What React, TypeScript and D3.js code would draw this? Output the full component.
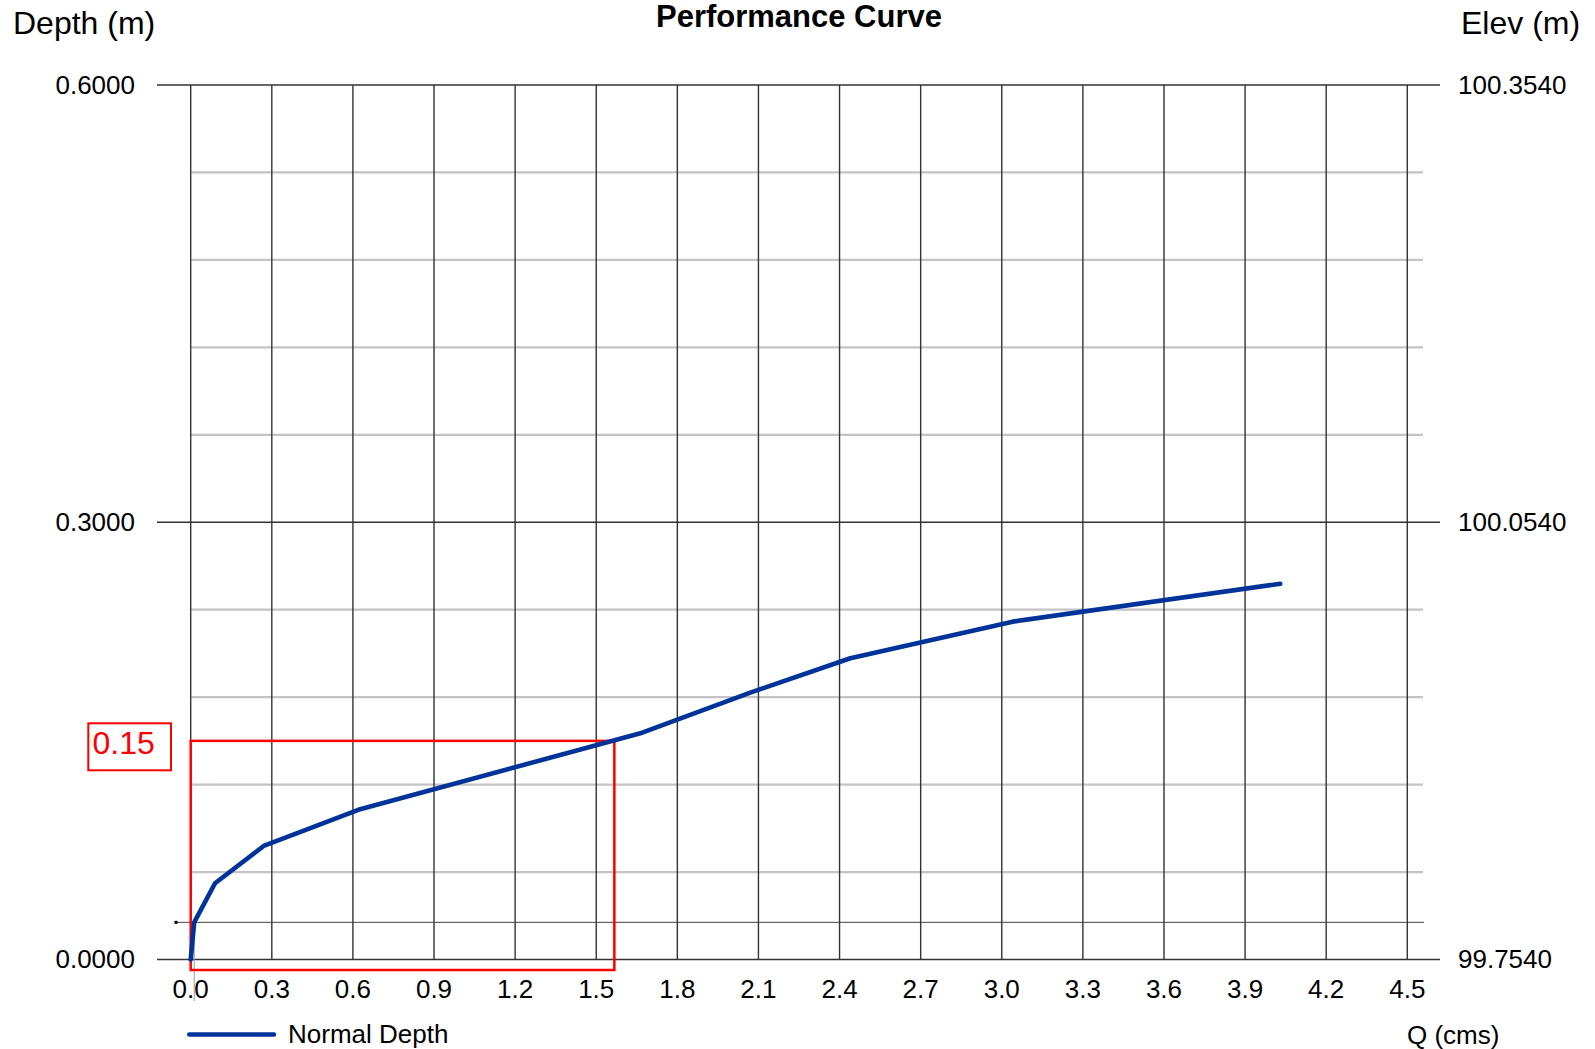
import React from 'react';
import {scaleLinear, line} from 'd3';

// curve
const qValues = [0, 0.013, 0.09, 0.27, 0.62, 1.67, 2.07, 2.44, 3.04, 4.03];
const depthValues = [0, 0.0255, 0.0523, 0.0779, 0.1027, 0.1556, 0.1831, 0.2067, 0.2318, 0.2578];
const xTicks = [0, 0.3, 0.6, 0.9, 1.2, 1.5, 1.8, 2.1, 2.4, 2.7, 3.0, 3.3, 3.6, 3.9, 4.2, 4.5];
const depthTicks = [0, 0.3, 0.6];
const elevTicks = [99.754, 100.054, 100.354];
const minorDepth = [0.06, 0.12, 0.18, 0.24, 0.36, 0.42, 0.48, 0.54];
const markDepth = 0.15;
const markQ = 1.567;

const font = 'Liberation Sans, Arial, sans-serif';

const App = () => {
    const x = scaleLinear().domain([0, 4.5]).range([190.7, 1407.3]);
    const y = scaleLinear().domain([0, 0.6]).range([959.5, 85]);
    const yElev = scaleLinear().domain([99.754, 100.354]).range([959.5, 85]);

    const pts = qValues.map((q, i) => [q, depthValues[i]] as [number, number]);
    const path = line<[number, number]>().x(d => x(d[0])).y(d => y(d[1]))(pts);

    const first = pts[1];

    return (
        <div>
            <style>{`body{margin:0}`}</style>
            <svg width={1595} height={1049} style={{display: 'block'}} fontFamily={font}>
                <rect width={1595} height={1049} fill="#fff"/>

                {/* light minor gridlines */}
                {minorDepth.map(d => (
                    <line key={'m' + d} x1={x(0)} x2={1423} y1={y(d)} y2={y(d)} stroke="#c4c4c4" strokeWidth={2.2}/>
                ))}

                {/* vertical gridlines */}
                {xTicks.map(t => (
                    <line key={'v' + t} x1={x(t)} x2={x(t)} y1={y(0.6)} y2={y(0)} stroke="#333" strokeWidth={1.4}/>
                ))}

                {/* major horizontal lines */}
                {depthTicks.map(d => (
                    <line key={'h' + d} x1={157} x2={1440} y1={y(d)} y2={y(d)} stroke="#333" strokeWidth={1.4}/>
                ))}

                {/* crosshair at first point */}
                <line x1={175} x2={1424} y1={y(first[1])} y2={y(first[1])} stroke="#444" strokeWidth={1}/>
                <rect x={174.5} y={y(first[1]) - 1.5} width={3} height={3} fill="#000"/>
                <line x1={x(first[0])} x2={x(first[0])} y1={y(first[1])} y2={1001} stroke="#999" strokeWidth={1}/>

                {/* red marker box */}
                <rect x={x(0)} y={y(markDepth)} width={x(markQ) - x(0)} height={y(0) + 10.5 - y(markDepth)}
                      fill="none" stroke="#ff0000" strokeWidth={2.5}/>
                <rect x={88.3} y={723.3} width={82.7} height={47} fill="#fff" stroke="#ff0000" strokeWidth={2}/>
                <text x={92.5} y={746} dominantBaseline="middle" fontSize={32} fill="#ff0000">{markDepth.toFixed(2)}</text>

                {/* curve */}
                <path d={path || ''} fill="none" stroke="#003399" strokeWidth={4.6} strokeLinejoin="round" strokeLinecap="round"/>

                {/* left axis labels */}
                {depthTicks.map(d => (
                    <text key={'l' + d} x={135} y={y(d) + 2} textAnchor="end" dominantBaseline="middle" fontSize={26}>{d.toFixed(4)}</text>
                ))}
                {/* right axis labels */}
                {elevTicks.map(e => (
                    <text key={'r' + e} x={1458} y={yElev(e) + 2} dominantBaseline="middle" fontSize={26}>{e.toFixed(4)}</text>
                ))}
                {/* x labels */}
                {xTicks.map(t => (
                    <text key={'x' + t} x={x(t)} y={991} textAnchor="middle" dominantBaseline="middle" fontSize={26}>{t.toFixed(1)}</text>
                ))}

                <text x={799} y={27} textAnchor="middle" fontSize={31} fontWeight="bold">Performance Curve</text>
                <text x={13} y={34} fontSize={32}>Depth (m)</text>
                <text x={1461} y={34} fontSize={32}>Elev (m)</text>
                <text x={1407} y={1044} fontSize={26}>Q (cms)</text>

                {/* legend */}
                <line x1={189.3} x2={274} y1={1034.5} y2={1034.5} stroke="#003399" strokeWidth={4.5} strokeLinecap="round"/>
                <text x={288} y={1043} fontSize={26}>Normal Depth</text>
            </svg>
        </div>
    );
};

export default App;
